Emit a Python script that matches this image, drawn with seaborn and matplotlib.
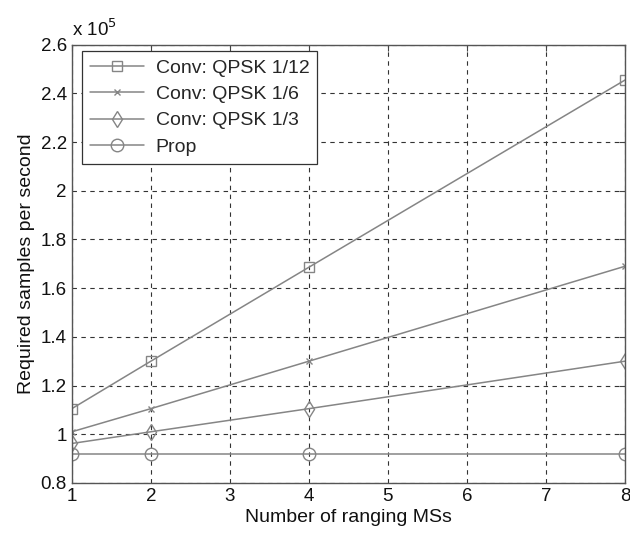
import numpy as np
import pandas as pd
import seaborn as sns
import matplotlib
matplotlib.use('Agg')
import matplotlib.pyplot as plt
from matplotlib.ticker import FuncFormatter

# Данные (значения в отсчётах в секунду)
n_ms = [1, 2, 4, 8]
conv_1_12 = [1.105e5, 1.30e5, 1.686e5, 2.455e5]
conv_1_6 = [1.01e5, 1.105e5, 1.30e5, 1.69e5]
conv_1_3 = [0.962e5, 1.01e5, 1.105e5, 1.30e5]
prop = [0.92e5, 0.92e5, 0.92e5, 0.92e5]

series_names = ['Conv: QPSK 1/12', 'Conv: QPSK 1/6', 'Conv: QPSK 1/3', 'Prop']
series_values = [conv_1_12, conv_1_6, conv_1_3, prop]
markers = ['s', 'x', 'd', 'o']
marker_sizes = [7.5, 4, 8, 9]

sns.set_style('white')
plt.rcParams['font.family'] = ['Liberation Sans', 'DejaVu Sans']

fig = plt.figure(figsize=(6.3, 5.33), dpi=100)
ax = fig.add_axes([0.114, 0.094, 0.878, 0.822])

line_color = '#858585'
for name, vals, m, ms in zip(series_names, series_values, markers, marker_sizes):
    df = pd.DataFrame({'x': n_ms, 'y': vals})
    sns.lineplot(data=df, x='x', y='y', ax=ax, color=line_color, linewidth=1.1,
                 marker=m, markersize=ms, markerfacecolor='none',
                 markeredgecolor=line_color, markeredgewidth=1.0, label=name)

ax.set_xlim(1, 8)
ax.set_ylim(0.8e5, 2.6e5)
ax.set_xticks(range(1, 9))
ax.set_yticks(np.arange(0.8e5, 2.61e5, 0.2e5))
ax.yaxis.set_major_formatter(FuncFormatter(lambda v, _: f'{v / 1e5:g}'))

ax.grid(True, color='#333333', linestyle=(0, (4, 4)), linewidth=0.8)
ax.tick_params(direction='in', top=True, right=True, length=4, labelsize=13.5,
               color='#444444', labelcolor='#111111')
for s in ax.spines.values():
    s.set_color('#555555')
    s.set_linewidth(1.0)

ax.set_xlabel('Number of ranging MSs', fontsize=14, color='#111111', labelpad=3)
ax.set_ylabel('Required samples per second', fontsize=14, color='#111111', labelpad=4)
ax.text(0.0, 1.012, r'x 10$^5$', transform=ax.transAxes, fontsize=13.5,
        ha='left', va='bottom', color='#111111')

leg = ax.legend(loc='upper left', fontsize=14, frameon=True, fancybox=False,
                handlelength=2.8, borderpad=0.4, labelspacing=0.45,
                handletextpad=0.6, bbox_to_anchor=(0.018, 0.985), borderaxespad=0)
leg.get_frame().set_edgecolor('#333333')
leg.get_frame().set_linewidth(0.9)
leg.get_frame().set_alpha(1)

fig.savefig('out.png', dpi=100)
